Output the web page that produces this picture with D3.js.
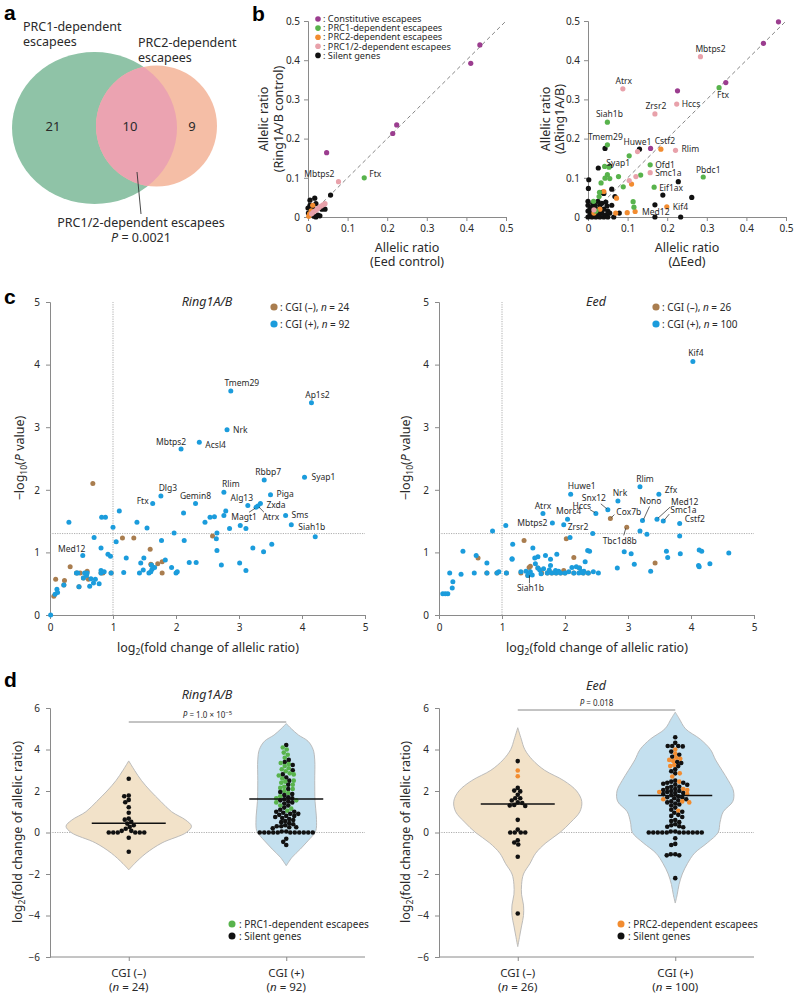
<!DOCTYPE html>
<html>
<head>
<meta charset="utf-8">
<script src="https://cdn.jsdelivr.net/npm/d3@7/dist/d3.min.js"></script>
<style>
html,body{margin:0;padding:0;background:#fff;}
svg text{font-family:'Noto Sans',sans-serif;}
</style>
</head>
<body>
<svg id="fig" width="800" height="1000" xmlns="http://www.w3.org/2000/svg"></svg>
<script>
// ================= DATA =================
// ---- panel a ----
const vennCounts = [21, 10, 9];           // PRC1 only, both, PRC2 only
const vennP = "0.0021";

// ---- panel b ----
const bLegend = ["Constitutive escapees","PRC1-dependent escapees","PRC2-dependent escapees","PRC1/2-dependent escapees","Silent genes"];
const bTicks = [0, 0.1, 0.2, 0.3, 0.4, 0.5];
// [Eed control, Ring1A/B control]
const bL_constitutive = [[0.434,0.439],[0.411,0.392],[0.224,0.235],[0.214,0.213],[0.047,0.164]];
const bL_prc1 = [[0.142,0.100]];
const bL_prc2 = [[0.012,0.030],[0.004,0.008],[0.008,0.016],[0.002,0.002]];
const bL_prc12 = [[0.077,0.090],[0.043,0.034],[0.038,0.031],[0.033,0.028],[0.028,0.024],[0.023,0.020],[0.018,0.016],[0.013,0.012],[0.009,0.008]];
const bL_silent = [[0.057,0.056],[0.005,0.043],[0.017,0.048],[0.020,0.034],[0.000,0.023],[0.008,0.015],[0.025,0.005],[0.020,0.000],[0.035,0.020],[0.043,0.020],[0.015,0.002],[0.005,0.030],[0.001,0.010],[0.030,0.003],[0.012,0.024]];
const bL_labels = [["Mbtps2",0.077,0.090,-4,-5,"end"],["Ftx",0.142,0.100,5,-1,"start"]];
// [ΔEed, ΔRing1A/B]
const bR_constitutive = [[0.481,0.498],[0.443,0.443],[0.348,0.343],[0.226,0.322],[0.158,0.175]];
const bR_prc1 = [[0.331,0.330],[0.049,0.242],[0.049,0.184],[0.104,0.156],[0.157,0.133],[0.291,0.102],[0.167,0.076],[0.133,0.107],[0.077,0.103],[0.089,0.077],[0.114,0.039],[0.116,0.025],[0.042,0.129],[0.053,0.127],[0.049,0.108],[0.055,0.098],[0.043,0.099],[0.033,0.087],[0.029,0.063],[0.014,0.040],[0.028,0.052],[0.020,0.015]];
const bR_prc2 = [[0.184,0.173],[0.199,0.026],[0.119,0.014],[0.072,0.048],[0.110,0.084],[0.099,0.011],[0.070,0.010],[0.040,0.065],[0.030,0.020],[0.015,0.010]];
const bR_prc12 = [[0.284,0.409],[0.088,0.327],[0.224,0.288],[0.169,0.263],[0.125,0.167],[0.221,0.170],[0.157,0.113],[0.121,0.103],[0.104,0.093],[0.015,0.018]];
const bR_silent = [[0.043,0.175],[0.130,0.173],[0.228,0.090],[0.189,0.056],[0.262,0.050],[0.169,0.031],[0.169,0.000],[0.234,0.000],[0.068,0.052],[0.079,0.010],[0.060,0.071],[0.002,0.095],[0.001,0.073],[0.026,0.125],[0.055,0.130],[0.036,0.063],[0.045,0.038],[0.040,0.060],
  [0.000,0.000],[0.005,0.005],[0.010,0.000],[0.015,0.010],[0.020,0.000],[0.025,0.005],[0.030,0.000],[0.035,0.010],[0.040,0.000],[0.045,0.005],[0.050,0.000],[0.000,0.015],[0.005,0.020],[0.000,0.030],[0.010,0.025],[0.020,0.020],[0.030,0.030],[0.040,0.020],[0.050,0.015],[0.055,0.010],[0.000,0.040],[0.012,0.035],[0.025,0.040],[0.035,0.035],[0.060,0.030],[0.065,0.000],[0.008,0.012],[0.018,0.030],[0.028,0.015],[0.048,0.028]];
const bR_labels = [
  ["Mbtps2",0.284,0.409,10,-5,"middle"],["Atrx",0.088,0.327,1,-5,"middle"],["Ftx",0.331,0.330,4,10,"middle"],
  ["Hccs",0.224,0.288,5,3,"start"],["Zrsr2",0.169,0.263,1,-5,"middle"],["Siah1b",0.049,0.242,2,-5,"middle"],
  ["Tmem29",0.049,0.184,-2,-5,"middle"],["Huwe1",0.125,0.167,0,-7,"middle"],["Cstf2",0.184,0.173,4,-5,"middle"],
  ["Rlim",0.221,0.170,6,2,"start"],["Syap1",0.104,0.156,1,10,"end"],["Ofd1",0.157,0.133,5,3,"start"],
  ["Smc1a",0.157,0.113,5,3,"start"],["Pbdc1",0.291,0.102,5,-4,"middle"],["Eif1ax",0.167,0.076,5,4,"start"],
  ["Kif4",0.199,0.026,6,3,"start"],["Med12",0.119,0.014,7,3,"start"]];

// ---- panel c ----
const cTicks = [0,1,2,3,4,5];
const cL_blue = [
  [2.87,3.58],[4.15,3.39],[2.81,2.96],[2.37,2.76],[2.08,2.65],[3.40,2.155],[4.04,2.20],[2.76,1.96],[3.50,1.92],[1.76,1.90],[1.63,1.78],[2.31,1.78],[3.14,1.75],[3.34,1.78],[3.30,1.74],[3.27,1.72],[3.74,1.59],[3.83,1.44],[4.21,1.25],
  [2.79,1.66],[2.76,1.59],[2.54,1.56],[2.61,1.57],[2.46,1.48],[2.12,1.63],[1.10,1.66],[0.82,1.56],[0.88,1.56],[0.30,1.48],[1.38,1.48],[1.54,1.39],[1.00,1.40],[2.65,1.31],[2.64,1.22],[2.85,1.38],[3.02,1.43],[3.11,1.38],[1.97,1.31],[1.77,1.19],[2.13,1.19],[0.70,1.24],[1.05,1.17],[0.81,1.07],[2.65,1.03],[3.22,1.07],[3.39,1.01],[3.52,1.13],
  [0.52,0.95],[0.92,0.97],[0.96,0.94],[1.21,0.91],[1.49,0.91],[1.44,0.83],[1.61,0.80],[1.62,0.73],[1.83,0.88],[1.93,0.76],[2.21,0.84],[2.32,0.84],[2.72,0.80],[3.01,0.83],[3.11,0.71],
  [0.42,0.67],[0.59,0.67],[0.58,0.63],[0.53,0.59],[0.63,0.46],[0.69,0.51],[0.72,0.57],[0.81,0.71],[0.81,0.67],[0.97,0.67],[1.17,0.68],[1.42,0.67],[1.57,0.67],[2.00,0.67],[0.22,0.48],[0.11,0.41],[0.08,0.33],[0.01,0.00],[0.46,0.45],[1.66,0.76],[0.44,0.67],[0.65,0.58],
  [0.12,0.36],[0.86,0.69],[1.60,0.69],[0.55,0.67],[0.78,0.50],[1.48,0.72],[2.02,0.69]];
const cL_brown = [[0.68,2.10],[1.15,1.23],[1.33,1.23],[1.59,1.05],[2.58,1.26],[1.71,0.82],[1.78,0.85],[1.78,0.67],[1.60,0.81],[0.32,0.77],[0.09,0.57],[0.23,0.55],[0.06,0.30],[0.48,0.67],[0.59,0.70],[0.61,0.57],[0.84,0.67],[0.46,0.45],
  [0.53,0.59],[0.42,0.67],[0.81,0.67],[1.61,0.80],[0.22,0.48],[0.97,0.67]];
// [gene, x, y, dx, dy, anchor, leaderFromDx, leaderFromDy]
const cL_labels = [
  ["Tmem29",2.87,3.58,11,-5,"middle"],["Ap1s2",4.15,3.39,6,-5,"middle"],["Nrk",2.81,2.96,6,3,"start"],
  ["Acsl4",2.37,2.76,6,6,"start"],["Mbtps2",2.08,2.65,-10,-4,"middle"],["Rbbp7",3.40,2.155,4,-5,"middle"],
  ["Syap1",4.04,2.20,7,3,"start"],["Rlim",2.76,1.96,7,-5,"middle"],["Piga",3.50,1.92,6,2,"start"],
  ["Dlg3",1.76,1.90,7,-5,"middle"],["Ftx",1.63,1.78,-4,0,"end"],["Gemin8",2.31,1.78,0,-5,"middle"],
  ["Alg13",3.14,1.75,-6,-4,"middle"],["Zxda",3.34,1.78,6,4,"start"],
  ["Magt1",3.27,1.72,-12,13,"middle",-7,5],["Atrx",3.30,1.74,13,14,"middle",6,6],
  ["Sms",3.74,1.59,6,3,"start"],["Siah1b",3.83,1.44,7,5,"start"],["Med12",0.52,0.95,-11,-4,"middle"]];

const cR_blue = [
  [4.03,4.05],[3.19,2.05],[3.49,1.93],[2.09,1.93],[2.84,1.82],[2.68,1.68],[2.49,1.62],[3.23,1.51],[3.46,1.53],[3.56,1.50],[3.82,1.46],[1.65,1.62],[2.04,1.53],[1.80,1.47],[1.98,1.44],[2.08,1.24],[2.44,1.30],[3.19,1.34],[3.30,1.29],[3.82,1.26],
  [1.06,1.43],[0.85,1.34],[1.17,1.13],[1.49,1.07],[0.38,1.02],[0.59,0.95],[0.76,0.83],[1.16,0.89],[1.57,0.93],[1.69,0.95],[1.77,0.89],[1.87,0.97],[2.36,1.03],[2.39,1.02],[2.94,1.01],[3.05,0.98],[3.61,1.02],[3.63,0.92],[3.83,0.98],[4.13,1.04],[4.17,1.02],[4.60,0.99],[4.12,0.79],[4.13,0.77],[4.30,0.82],
  [3.10,0.81],[3.36,0.70],[2.83,0.75],[2.32,0.85],[2.11,0.76],[2.23,0.75],[1.53,0.82],[1.57,0.75],[1.77,0.79],[1.60,0.72],[1.38,0.70],[1.41,0.63],[1.48,0.64],[1.42,0.65],
  [0.17,0.67],[0.56,0.67],[0.76,0.67],[0.92,0.67],[1.07,0.67],[1.72,0.67],[1.79,0.67],[1.86,0.67],[1.93,0.67],[2.00,0.67],[2.14,0.67],[2.22,0.67],[2.29,0.67],[2.37,0.67],[2.53,0.67],
  [0.35,0.65],[0.22,0.53],[0.21,0.43],[0.06,0.34],[0.14,0.34],[0.10,0.34],[1.16,0.90],[2.18,0.77],[1.66,0.74],[2.30,0.70],[1.52,0.91],[1.45,0.69],[2.06,0.69],[1.85,0.71],[2.26,0.69],[1.62,0.66],[1.30,0.69],[0.95,0.69],[1.90,0.70],[2.45,0.69],[1.75,0.72]];
const cR_brown = [[2.72,1.54],[2.02,1.22],[2.98,1.40],[1.35,1.19],[0.62,0.91],[2.14,0.92],[3.43,0.83],[1.43,0.76],[1.45,0.78],[1.30,0.67],[1.63,0.67],[1.98,0.71],
  [1.72,0.67],[1.86,0.67],[2.14,0.67],[2.29,0.67],[0.76,0.67],[1.07,0.67],[1.57,0.75],[2.23,0.75],[1.79,0.67],[2.00,0.67],[1.41,0.63],[0.92,0.67],[2.37,0.67],[1.93,0.67]];
const cR_labels = [
  ["Kif4",4.03,4.05,3,-5,"middle"],["Rlim",3.19,2.05,5,-5,"middle"],["Zfx",3.49,1.93,6,-1,"start"],
  ["Huwe1",2.09,1.93,11,-5,"middle"],["Nrk",2.84,1.82,2,-5,"middle"],["Snx12",2.68,1.68,-14,-9,"middle",-7,-6],
  ["Hccs",2.49,1.62,-14,-5,"middle",-6,-4],["Cox7b",2.72,1.54,6,-4,"start",4,-4],["Nono",3.23,1.51,8,-16,"middle",7,-14],
  ["Med12",3.46,1.53,14,-14,"start",13,-12],["Smc1a",3.56,1.50,7,-8,"start",6,-7],["Cstf2",3.82,1.46,5,-2,"start"],
  ["Atrx",1.65,1.62,0,-5,"middle"],["Morc4",2.04,1.53,1,-5,"middle"],["Mbtps2",1.80,1.47,-5,3,"end"],
  ["Zrsr2",2.08,1.24,8,-7,"middle"],["Tbc1d8b",2.98,1.40,-7,17,"middle",-3,8],["Siah1b",1.42,0.65,2,17,"middle",1,9]];

// ---- panel d ----
const dCats = ["CGI (–)","CGI (+)"];
const dRingN = [24, 92];
const dEedN = [26, 100];
const dTicks = [-6,-4,-2,0,2,4,6];
const dRing_neg_silent = [2.59,1.78,1.75,1.57,1.46,1.22,0.95,0.67,0.62,0.51,0.43,0.35,0.27,0.18,0.08,0.08,0,0,0,0,0,0,-0.25,-0.93];
const dRing_pos_prc1 = [4.1,4.0,3.85,3.75,3.6,3.35,3.3,3.2,3.1,3.05,2.95,2.85,2.8,2.75,2.6,2.5,2.45,2.4,2.3,2.2,2.15,2.1,2.0,1.9,1.75,1.65,1.55,1.45,1.3,1.15,1.05];
const dRing_pos_silent = [4.22,3.5,3.4,3.25,3.0,2.8,2.65,2.5,2.3,2.1,1.95,1.85,1.8,1.7,1.65,1.6,1.55,1.5,1.45,1.4,1.3,1.2,1.1,1.0,1.0,0.95,0.9,0.9,0.85,0.8,0.8,0.75,0.7,0.65,0.6,0.55,0.5,0.45,0.4,0.35,0.3,0.3,0.25,0.25,0.2,0.05,0.05,0,0,0,0,0,0,0,0,0,0,0,-0.3,-0.45,-0.6];
const dEed_neg_prc2 = [2.99,2.71];
const dEed_neg_silent = [3.44,2.15,2.02,1.98,1.82,1.65,1.65,1.54,1.45,1.42,1.33,1.30,1.28,0.61,0.14,0,0,0,0,-0.37,-0.48,-0.58,-1.17,-3.9];
const dEed_pos_prc2 = [4.0,3.8,3.6,3.55,3.5,3.45,3.25,3.2,2.85,2.7,2.45,2.1,2.05,1.95,1.85,1.6,1.5,1.45,1.05];
const dEed_pos_silent = [4.59,4.32,4.17,4.17,4.17,4.15,3.9,3.75,3.65,3.4,3.35,3.2,3.05,2.95,2.85,2.5,2.45,2.4,2.4,2.35,2.3,2.3,2.2,2.2,2.15,2.1,2.05,2.0,2.0,1.95,1.9,1.9,1.85,1.8,1.75,1.7,1.7,1.65,1.6,1.55,1.5,1.45,1.4,1.35,1.3,1.2,1.1,1.0,0.95,0.85,0.8,0.75,0.6,0.55,0.5,0.4,0.35,0.3,0.28,0.25,0.05,0,0,0,0,0,0,0,0,0,0,0,0.05,-0.28,-0.55,-0.6,-1.05,-1.1,-1.1,-1.05,-2.2];
const dRingMedians = [0.45, 1.62];
const dEedMedians = [1.37, 1.78];
const dRingP = "1.0 × 10";
const dEedP = "0.018";
// violin density profiles: [value, relative half-width]
const vRingNeg = [[3.45,0],[3.0,0.09],[2.5,0.2],[2.0,0.34],[1.5,0.5],[1.0,0.67],[0.6,0.89],[0.3,0.98],[0.0,0.9],[-0.5,0.52],[-1.0,0.27],[-1.5,0.09],[-1.8,0]];
const vRingPos = [[5.25,0],[5.0,0.08],[4.7,0.19],[4.4,0.34],[4.0,0.42],[3.5,0.445],[2.5,0.445],[1.5,0.45],[0.8,0.47],[0.2,0.47],[0,0.45],[-0.4,0.34],[-0.8,0.22],[-1.2,0.09],[-1.6,0]];
const vEedNeg = [[5.05,0],[4.5,0.055],[4.0,0.11],[3.5,0.23],[3.0,0.42],[2.5,0.72],[2.0,0.92],[1.5,1.0],[1.0,0.97],[0.5,0.83],[0,0.66],[-0.5,0.44],[-1.0,0.28],[-1.5,0.19],[-2.0,0.09],[-2.5,0.06],[-3.0,0.06],[-3.5,0.09],[-4.0,0.09],[-4.5,0.06],[-5.0,0.03],[-5.5,0]];
const vEedPos = [[5.8,0],[5.5,0.06],[5.0,0.16],[4.5,0.39],[4.0,0.55],[3.5,0.63],[3.0,0.73],[2.5,0.83],[2.0,0.91],[1.5,0.9],[1.0,0.75],[0.5,0.70],[0,0.67],[-0.5,0.5],[-1.0,0.3],[-1.5,0.19],[-2.0,0.11],[-2.5,0.06],[-3.0,0.03],[-3.4,0]];

// ================= STYLE =================
const AX = "#8a8a8a", TXT = "#2a2a2a";
const COL = {constitutive:"#9b3d8f", prc1:"#58b34c", prc2:"#f28c30", prc12:"#e8a1aa", silent:"#111111",
             cgiNeg:"#a97d4f", cgiPos:"#1b9cdc"};

const svg = d3.select("#fig");
const defs = svg.append("defs");

function styleAxis(g, fs) {
  g.select(".domain").attr("stroke", AX).attr("stroke-width", 1);
  g.selectAll(".tick line").attr("stroke", AX);
  g.selectAll(".tick text").attr("fill", TXT).attr("font-size", fs || 10).attr("font-family", "'Noto Sans',sans-serif");
}
function letter(t, x, y) {
  svg.append("text").attr("x", x).attr("y", y).attr("font-size", 21).attr("font-weight", 900)
    .style("font-family", "'Liberation Sans',Arial,sans-serif").attr("fill", "#000").text(t);
}
function txt(g, x, y, s, fs, anchor) {
  return g.append("text").attr("x", x).attr("y", y).attr("font-size", fs).attr("text-anchor", anchor || "start").attr("fill", TXT).text(s);
}
function rotTitle(g, x, y, fs) {
  return g.append("text").attr("transform", `translate(${x},${y}) rotate(-90)`).attr("text-anchor", "middle").attr("font-size", fs).attr("fill", TXT);
}
const fmtInt = d => d < 0 ? "−" + Math.abs(d) : String(d);

// ================= PANEL A =================
letter("a", 4, 20);
const gA = svg.append("g");
defs.append("clipPath").attr("id", "clipG").append("ellipse").attr("cx", 94.5).attr("cy", 128).attr("rx", 82.5).attr("ry", 76);
gA.append("ellipse").attr("cx", 94.5).attr("cy", 128).attr("rx", 82.5).attr("ry", 76).attr("fill", "#8fc3a7");
gA.append("circle").attr("cx", 156.5).attr("cy", 126).attr("r", 60.5).attr("fill", "#f5bea6");
gA.append("circle").attr("cx", 156.5).attr("cy", 126).attr("r", 60.5).attr("fill", "#eba3b1").attr("clip-path", "url(#clipG)");
txt(gA, 23, 31, "PRC1-dependent", 12.5);
txt(gA, 23, 46, "escapees", 12.5);
txt(gA, 138, 47, "PRC2-dependent", 12.5);
txt(gA, 138, 62, "escapees", 12.5);
[[53, vennCounts[0]], [130, vennCounts[1]], [192, vennCounts[2]]].forEach(([x, n]) => txt(gA, x, 131, n, 13, "middle"));
gA.append("line").attr("x1", 137).attr("y1", 172).attr("x2", 141).attr("y2", 214).attr("stroke", "#333").attr("stroke-width", 0.9);
txt(gA, 141, 227, "PRC1/2-dependent escapees", 12.5, "middle");
const pA = txt(gA, 141, 242, "", 12.5, "middle");
pA.append("tspan").attr("font-style", "italic").text("P");
pA.append("tspan").text(" = " + vennP);

// ================= PANEL B =================
letter("b", 252, 21);
const fmtB = d => d === 0 ? "0" : d3.format(".1f")(d);
const ybS = d3.scaleLinear([0, 0.5], [217, 21]);
function panelB(x0, x1, series, labels, xt, yt, ytx) {
  const g = svg.append("g");
  const x = d3.scaleLinear([0, 0.5], [x0, x1]);
  const gx = g.append("g").attr("transform", `translate(0,${ybS(0)})`)
    .call(d3.axisBottom(x).tickValues(bTicks).tickFormat(fmtB).tickSize(4).tickPadding(4));
  styleAxis(gx, 10);
  const gy = g.append("g").attr("transform", `translate(${x(0)},0)`)
    .call(d3.axisLeft(ybS).tickValues(bTicks).tickFormat(fmtB).tickSize(4).tickPadding(4));
  styleAxis(gy, 10);
  g.append("line").attr("x1", x(0)).attr("y1", ybS(0)).attr("x2", x(0.5)).attr("y2", ybS(0.5))
    .attr("stroke", "#777").attr("stroke-width", 0.9).attr("stroke-dasharray", "4,3");
  series.forEach(([data, c]) => {
    g.append("g").selectAll("circle").data(data).join("circle")
      .attr("cx", d => x(d[0])).attr("cy", d => ybS(d[1])).attr("r", 2.6).attr("fill", c);
  });
  labels.forEach(l => {
    g.append("text").attr("x", x(l[1]) + l[3]).attr("y", ybS(l[2]) + l[4]).attr("text-anchor", l[5])
      .attr("font-size", 8.5).attr("fill", TXT).text(l[0]);
  });
  const cx = (x0 + x1) / 2;
  txt(g, cx, 252, xt[0], 12.5, "middle");
  txt(g, cx, 266, xt[1], 12.5, "middle");
  rotTitle(g, ytx[0], 119, 12.5).text(yt[0]);
  rotTitle(g, ytx[1], 119, 12.5).text(yt[1]);
  return g;
}
const gBL = panelB(308, 506,
  [[bL_silent, COL.silent], [bL_prc2, COL.prc2], [bL_prc12, COL.prc12], [bL_prc1, COL.prc1], [bL_constitutive, COL.constitutive]],
  bL_labels, ["Allelic ratio", "(Eed control)"], ["Allelic ratio", "(Ring1A/B control)"], [267.5, 282.5]);
const legCols = [COL.constitutive, COL.prc1, COL.prc2, COL.prc12, COL.silent];
bLegend.forEach((s, i) => {
  const y = 19 + i * 9.1;
  gBL.append("circle").attr("cx", 318).attr("cy", y).attr("r", 2.8).attr("fill", legCols[i]);
  txt(gBL, 323, y + 3.2, ": " + s, 9.2);
});
panelB(588, 786,
  [[bR_silent, COL.silent], [bR_prc2, COL.prc2], [bR_prc1, COL.prc1], [bR_prc12, COL.prc12], [bR_constitutive, COL.constitutive]],
  bR_labels, ["Allelic ratio", "(ΔEed)"], ["Allelic ratio", "(ΔRing1A/B)"], [549.5, 563.5]);

// ================= PANEL C =================
letter("c", 4, 304);
const yc = d3.scaleLinear([0, 5], [615, 302]);
function panelC(x0, title, blue, brown, labels, nNeg, nPos, legX, ytX) {
  const g = svg.append("g");
  const x = d3.scaleLinear([0, 5], [x0, x0 + 315]);
  const gx = g.append("g").attr("transform", `translate(0,${yc(0)})`)
    .call(d3.axisBottom(x).tickValues(cTicks).tickFormat(fmtInt).tickSize(4).tickPadding(5));
  styleAxis(gx, 10);
  const gy = g.append("g").attr("transform", `translate(${x(0)},0)`)
    .call(d3.axisLeft(yc).tickValues(cTicks).tickFormat(fmtInt).tickSize(4).tickPadding(6));
  styleAxis(gy, 10);
  g.append("line").attr("x1", x(1)).attr("x2", x(1)).attr("y1", yc(0)).attr("y2", yc(5))
    .attr("stroke", "#9a9a9a").attr("stroke-width", 0.8).attr("stroke-dasharray", "1.2,1.2");
  g.append("line").attr("x1", x(0)).attr("x2", x(5)).attr("y1", yc(-Math.log10(0.05))).attr("y2", yc(-Math.log10(0.05)))
    .attr("stroke", "#9a9a9a").attr("stroke-width", 0.8).attr("stroke-dasharray", "1.2,1.2");
  g.append("g").selectAll("circle").data(brown).join("circle")
    .attr("cx", d => x(d[0])).attr("cy", d => yc(d[1])).attr("r", 2.5).attr("fill", COL.cgiNeg);
  g.append("g").selectAll("circle").data(blue).join("circle")
    .attr("cx", d => x(d[0])).attr("cy", d => yc(d[1])).attr("r", 2.5).attr("fill", COL.cgiPos);
  labels.forEach(l => {
    const px = x(l[1]), py = yc(l[2]);
    if (l[6] !== undefined) {
      g.append("line").attr("x1", px + l[6]).attr("y1", py + l[7]).attr("x2", px + Math.sign(l[6]) * 1).attr("y2", py + Math.sign(l[7]) * 1)
        .attr("stroke", "#222").attr("stroke-width", 0.7);
    }
    g.append("text").attr("x", px + l[3]).attr("y", py + l[4]).attr("text-anchor", l[5])
      .attr("font-size", 8.5).attr("fill", TXT).text(l[0]);
  });
  g.append("text").attr("x", x(0) + 157).attr("y", 306).attr("text-anchor", "middle").attr("font-size", 12.5)
    .attr("font-style", "italic").attr("fill", TXT).text(title);
  [[nNeg, COL.cgiNeg, "(–)", 307], [nPos, COL.cgiPos, "(+)", 324]].forEach(([n, c, s, y]) => {
    g.append("circle").attr("cx", legX).attr("cy", y).attr("r", 3.6).attr("fill", c);
    const t = txt(g, legX + 6, y + 3.5, "", 10);
    t.append("tspan").text(": CGI " + s + ", ");
    t.append("tspan").attr("font-style", "italic").text("n");
    t.append("tspan").text(" = " + n);
  });
  const xt = txt(g, x(0) + 158, 652, "", 12.5, "middle");
  xt.append("tspan").text("log");
  xt.append("tspan").attr("font-size", 8.5).attr("dy", 3).text("2");
  xt.append("tspan").attr("dy", -3).text("(fold change of allelic ratio)");
  const yt = rotTitle(g, ytX, 458, 12.5);
  yt.append("tspan").text("−log");
  yt.append("tspan").attr("font-size", 8.5).attr("dy", 3).text("10");
  yt.append("tspan").attr("dy", -3).text("(");
  yt.append("tspan").attr("font-style", "italic").text("P");
  yt.append("tspan").text(" value)");
}
panelC(50, "Ring1A/B", cL_blue, cL_brown, cL_labels, 24, 92, 274, 24);
panelC(439, "Eed", cR_blue, cR_brown, cR_labels, 26, 100, 656, 409.5);

// ================= PANEL D =================
letter("d", 4, 687);
const yd = d3.scaleLinear([-6, 6], [957, 708]);
const wScale = d3.scaleLinear([0, 1], [0, 64]);
function swarm(items, cx, gap) {
  const pts = items.map(d => ({ ...d, py: yd(d.v) })).sort((a, b) => a.py - b.py);
  const placed = [];
  for (const p of pts) {
    let off = 0;
    for (let k = 0; k < 600; k++) {
      const o = (k % 2 ? -1 : 1) * Math.ceil(k / 2) * 0.5;
      let ok = true;
      for (const q of placed) {
        const dy = q.py - p.py;
        if (Math.abs(dy) < gap && (q.off - o) ** 2 + dy ** 2 < gap ** 2) { ok = false; break; }
      }
      if (ok) { off = o; break; }
    }
    p.off = off; placed.push(p);
  }
  return placed.map(p => ({ ...p, px: cx + p.off }));
}
function panelD(x0, title, titleY, violins, groups, medians, ns, pText, pSup, pY, legItems, ytX) {
  const g = svg.append("g");
  const x = d3.scalePoint(dCats, [x0, x0 + 315]).padding(0.5);
  g.append("line").attr("x1", x0).attr("x2", x0 + 315).attr("y1", yd(0)).attr("y2", yd(0))
    .attr("stroke", "#9a9a9a").attr("stroke-width", 0.8).attr("stroke-dasharray", "1.2,1.2");
  const vFill = ["#f2e2c9", "#c4e0ef"];
  violins.forEach((prof, i) => {
    const cx = x(dCats[i]);
    const area = d3.area().y(d => yd(d[0])).x0(d => cx - wScale(d[1])).x1(d => cx + wScale(d[1])).curve(d3.curveCatmullRom);
    g.append("path").attr("d", area(prof)).attr("fill", vFill[i]).attr("stroke", "#b5b5b5").attr("stroke-width", 0.9);
  });
  groups.forEach((grp, i) => {
    const items = [];
    grp.forEach(([vals, c]) => vals.forEach(v => items.push({ v, c })));
    const pts = swarm(items, x(dCats[i]), 4.1);
    g.append("g").selectAll("circle").data(pts).join("circle")
      .attr("cx", d => d.px).attr("cy", d => d.py).attr("r", 2.3).attr("fill", d => d.c);
    g.append("line").attr("x1", x(dCats[i]) - 37).attr("x2", x(dCats[i]) + 37)
      .attr("y1", yd(medians[i])).attr("y2", yd(medians[i])).attr("stroke", "#111").attr("stroke-width", 1.5);
  });
  const gy = g.append("g").attr("transform", `translate(${x0},0)`)
    .call(d3.axisLeft(yd).tickValues(dTicks).tickFormat(fmtInt).tickSize(4).tickPadding(6));
  styleAxis(gy, 10);
  const gx = g.append("g").attr("transform", `translate(0,${yd(-6)})`)
    .call(d3.axisBottom(x).tickSize(4).tickFormat(""));
  gx.select(".domain").attr("d", `M${x0},0H${x0 + 315}`);
  styleAxis(gx, 10);
  dCats.forEach((c, i) => {
    txt(g, x(c), 977, c, 11.5, "middle");
    const t = txt(g, x(c), 991, "", 11.5, "middle");
    t.append("tspan").text("(");
    t.append("tspan").attr("font-style", "italic").text("n");
    t.append("tspan").text(" = " + ns[i] + ")");
  });
  g.append("text").attr("x", x0 + 157).attr("y", titleY).attr("text-anchor", "middle").attr("font-size", 12.5)
    .attr("font-style", "italic").attr("fill", TXT).text(title);
  g.append("line").attr("x1", x(dCats[0])).attr("x2", x(dCats[1])).attr("y1", pY).attr("y2", pY)
    .attr("stroke", "#888").attr("stroke-width", 1);
  const pt = txt(g, (x(dCats[0]) + x(dCats[1])) / 2, pY - 4, "", 8, "middle");
  pt.append("tspan").attr("font-style", "italic").text("P");
  pt.append("tspan").text(" = " + pText);
  if (pSup) pt.append("tspan").attr("font-size", 6).attr("dy", -3).text(pSup);
  legItems.forEach(([c, s], i) => {
    const y = 924 + i * 12;
    g.append("circle").attr("cx", x0 + 182).attr("cy", y).attr("r", 3.5).attr("fill", c);
    txt(g, x0 + 189, y + 3.5, ": " + s, 10);
  });
  const yt = rotTitle(g, ytX, 832, 12.5);
  yt.append("tspan").text("log");
  yt.append("tspan").attr("font-size", 8.5).attr("dy", 3).text("2");
  yt.append("tspan").attr("dy", -3).text("(fold change of allelic ratio)");
}
panelD(50, "Ring1A/B", 699, [vRingNeg, vRingPos],
  [[[dRing_neg_silent, COL.silent]], [[dRing_pos_silent, COL.silent], [dRing_pos_prc1, COL.prc1]]],
  dRingMedians, dRingN, dRingP, "−5", 722,
  [[COL.prc1, "PRC1-dependent escapees"], [COL.silent, "Silent genes"]], 21.5);
panelD(439, "Eed", 690, [vEedNeg, vEedPos],
  [[[dEed_neg_silent, COL.silent], [dEed_neg_prc2, COL.prc2]], [[dEed_pos_silent, COL.silent], [dEed_pos_prc2, COL.prc2]]],
  dEedMedians, dEedN, dEedP, null, 710,
  [[COL.prc2, "PRC2-dependent escapees"], [COL.silent, "Silent genes"]], 409.5);
</script>
</body>
</html>
